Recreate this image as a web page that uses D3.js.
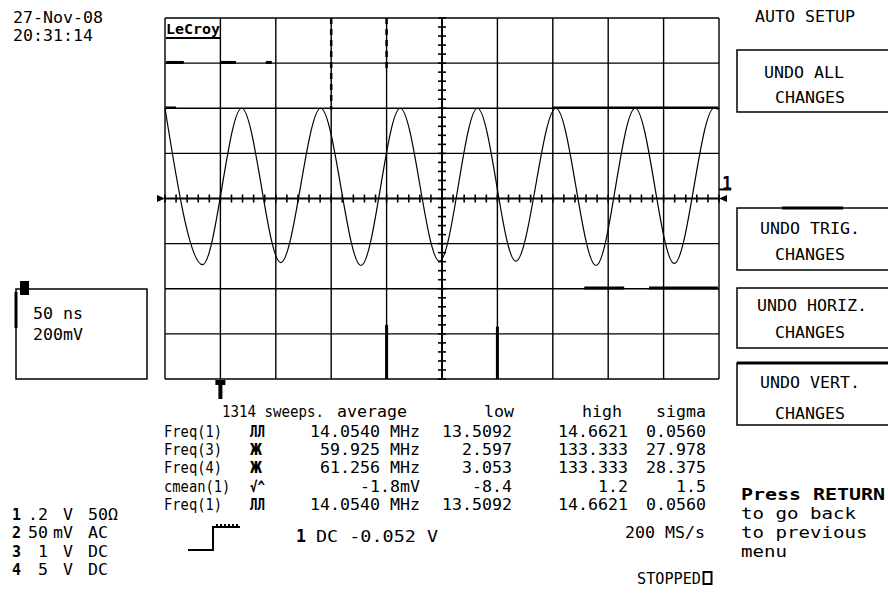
<!DOCTYPE html>
<html><head><meta charset="utf-8">
<script src="https://cdn.jsdelivr.net/npm/d3@7"></script>
<style>
body{margin:0;background:#fff}
svg{display:block}
text{font-family:"DejaVu Sans Mono",monospace;fill:#000}
</style>
</head><body><svg id="c" width="888" height="601"></svg>
<script>
// ---------------- data ----------------
const timeDomain = [-250, 250];          // ns, 50 ns/div, 10 divs
const voltDomain = [-0.8, 0.8];          // V, 200 mV/div, 8 divs
const gridTimes = d3.range(-250, 251, 50);
const gridVolts = [-0.8, -0.6, -0.4, -0.2, 0, 0.2, 0.4, 0.6, 0.8];
// channel 1 waveform extremes (time ns, volts)
const waveT = [-250, -216.1, -180.8, -145.5, -109.5, -73.1, -37.7, -2.3, 32, 66.6, 102.8, 139, 174.3, 209.6, 245.5, 250];
const waveV = [0.40, -0.293, 0.40, -0.284, 0.40, -0.297, 0.40, -0.278, 0.40, -0.278, 0.40, -0.297, 0.40, -0.288, 0.40, 0.395];
// fragments of other traces lying on grid lines [t0, v0, t1, v1]
const traceFrags = [
  [-249, 0.603, -233, 0.603], [-199.5, 0.603, -186, 0.603], [-159, 0.603, -153.6, 0.603],
  [-50, -0.56, -50, -0.8], [50, -0.568, 50, -0.8],
  [128.4, -0.397, 164.4, -0.397], [186.9, -0.397, 249, -0.397]
];
const thinFrags = [[99.5, 0.403, 249, 0.403], [-250, 0.403, -240, 0.403]];
const dashedFrags = [[-100, 0.8, -100, 0.395], [-50, 0.8, -50, 0.572]];

const dateLines = ["27-Nov-08", "20:31:14"];
const menuTitle = "AUTO SETUP";
const menuButtons = [["UNDO ALL", "CHANGES"], ["UNDO TRIG.", "CHANGES"], ["UNDO HORIZ.", "CHANGES"], ["UNDO VERT.", "CHANGES"]];
const returnLines = ["Press RETURN", "to go back", "to previous", "menu"];
const timebase = "50 ns", voltScale = "200mV";
const headerCols = ["1314 sweeps.", "average", "low", "high", "sigma"];
const measNames = ["Freq(1)", "Freq(3)", "Freq(4)", "cmean(1)", "Freq(1)"];
const measIcons = ["ЛЛ", "Ж", "Ж", "√^", "ЛЛ"];
const measAvg = ["14.0540 MHz", "59.925 MHz", "61.256 MHz", "-1.8mV", "14.0540 MHz"];
const measLow = ["13.5092", "2.597", "3.053", "-8.4", "13.5092"];
const measHigh = ["14.6621", "133.333", "133.333", "1.2", "14.6621"];
const measSigma = ["0.0560", "27.978", "28.375", "1.5", "0.0560"];
const chanNums = ["1", "2", "3", "4"];
const chanScale = [".2", "50", "1", "5"];
const chanUnit = ["V", "mV", "V", "V"];
const chanCoupling = ["50Ω", "AC", "DC", "DC"];
const sampleRate = "200 MS/s";
const trigText = "DC -0.052 V";
const status = "STOPPED";

// ---------------- layout ----------------
const svg = d3.select("#c");
const x = d3.scaleLinear().domain(timeDomain).range([165, 719]);
const y = d3.scaleLinear().domain(voltDomain).range([379, 18]);

function T(str, px, yc, o = {}) {
  const size = o.size || 15;
  const t = svg.append("text").attr("x", px).attr("y", yc + size * 0.37)
    .attr("font-size", size).text(str);
  if (o.anchor) t.attr("text-anchor", o.anchor);
  if (o.weight) t.attr("font-weight", o.weight);
  if (o.family) t.attr("font-family", o.family);
  if (o.fill) t.attr("fill", o.fill);
  const w = o.w !== undefined ? o.w : str.length * (o.adv || 10);
  if (w) t.attr("textLength", w).attr("lengthAdjust", "spacingAndGlyphs");
  return t;
}

// grid
const g = svg.append("g").attr("stroke", "#000").attr("fill", "none");
g.selectAll(".vx").data(gridTimes).join("line")
  .attr("x1", d => x(d)).attr("x2", d => x(d)).attr("y1", y(0.8)).attr("y2", y(-0.8))
  .attr("stroke-width", 1.4);
g.selectAll(".hy").data(gridVolts).join("line")
  .attr("x1", x(-250)).attr("x2", x(250)).attr("y1", d => y(d)).attr("y2", d => y(d))
  .attr("stroke-width", d => d === 0 ? 2 : 1.4);

// center axis ticks
const tTicks = d3.range(-250, 251, 10);
g.selectAll(".tt").data(tTicks).join("line")
  .attr("x1", d => x(d)).attr("x2", d => x(d))
  .attr("y1", y(0) - 4).attr("y2", y(0) + 4).attr("stroke-width", 1.6);
const vTicks = d3.range(-20, 21).map(i => i * 0.04);
g.selectAll(".vt").data(vTicks).join("line")
  .attr("x1", x(0) - 4).attr("x2", x(0) + 4)
  .attr("y1", d => y(d)).attr("y2", d => y(d)).attr("stroke-width", 1.6);
g.append("line").attr("x1", x(0)).attr("x2", x(0)).attr("y1", y(0.8)).attr("y2", y(-0.8)).attr("stroke-width", 2);

// other trace fragments
g.selectAll(".fr").data(traceFrags).join("line")
  .attr("x1", d => x(d[0])).attr("y1", d => y(d[1])).attr("x2", d => x(d[2])).attr("y2", d => y(d[3]))
  .attr("stroke-width", 3);
g.selectAll(".tf").data(thinFrags).join("line")
  .attr("x1", d => x(d[0])).attr("y1", d => y(d[1])).attr("x2", d => x(d[2])).attr("y2", d => y(d[3]))
  .attr("stroke-width", 2.2);
g.selectAll(".df").data(dashedFrags).join("line")
  .attr("x1", d => x(d[0])).attr("y1", d => y(d[1])).attr("x2", d => x(d[2])).attr("y2", d => y(d[3]))
  .attr("stroke-width", 2.5).attr("stroke-dasharray", "6,5");

// waveform
const wave = d3.zip(waveT, waveV);
svg.append("path").datum(wave)
  .attr("d", d3.line().x(d => x(d[0])).y(d => y(d[1])).curve(d3.curveMonotoneX))
  .attr("fill", "none").attr("stroke", "#000").attr("stroke-width", 1.2);

// axis end markers
svg.append("path").attr("d", `M${x(-250)},${y(0)} l-8,-3.5 v7 z`).attr("fill", "#000");
svg.append("path").attr("d", `M${x(250)},${y(0)} l8,-3.5 v7 z`).attr("fill", "#000");
// channel 1 marker at right
T("1", x(250) + 3, y(0.07), {size: 20, weight: "bold", w: 10});
svg.append("line").attr("x1", x(250)).attr("x2", x(250) + 12).attr("y1", y(0.04)).attr("y2", y(0.04)).attr("stroke", "#000").attr("stroke-width", 2);
// trigger marker below grid
svg.append("path").attr("d", `M${x(-200) - 5},${y(-0.8) + 1} h10 v5 h-3 v14 h-4 v-14 h-3 z`).attr("fill", "#000");

// LeCroy logo
T("LeCroy", 166, 29, {size: 14, weight: "bold", family: "DejaVu Sans", w: 54});
svg.append("rect").attr("x", 166).attr("y", 37).attr("width", 54).attr("height", 2).attr("fill", "#000");

// date/time
T(dateLines[0], 13, 17);
T(dateLines[1], 13, 35, {w: 80});

// menu
T(menuTitle, 755, 16);
const boxes = [[50, 112], [208, 270], [288, 348], [363, 425]];
const lineYs = [[72, 97], [228, 254], [305, 332], [382, 413]];
const lineX = [764, 760, 757, 760];
boxes.forEach((b, i) => {
  svg.append("path").attr("d", `M890,${b[0]} H737 V${b[1]} H890`).attr("fill", "none").attr("stroke", "#000").attr("stroke-width", 1.5);
  T(menuButtons[i][0], lineX[i], lineYs[i][0]);
  T(menuButtons[i][1], 775, lineYs[i][1]);
});
svg.append("rect").attr("x", 782).attr("y", 206.5).attr("width", 61).attr("height", 3).attr("fill", "#000");
svg.append("rect").attr("x", 737).attr("y", 361.5).attr("width", 151).attr("height", 3).attr("fill", "#000");

// return text
const retY = [494, 513, 532, 551];
returnLines.forEach((s, i) => T(s, 741, retY[i], {adv: i === 0 ? 12 : 11.5, weight: i === 0 ? "bold" : null}));

// left box
svg.append("rect").attr("x", 16).attr("y", 289).attr("width", 131).attr("height", 90).attr("fill", "none").attr("stroke", "#000").attr("stroke-width", 1.5);
svg.append("rect").attr("x", 14.5).attr("y", 292).attr("width", 3).attr("height", 36).attr("fill", "#000");
svg.append("rect").attr("x", 20).attr("y", 281).attr("width", 9).attr("height", 14).attr("fill", "#000");
T("1", 21.5, 287.5, {size: 11, weight: "bold", fill: "#fff", w: 6});
T(timebase, 33, 313);
T(voltScale, 33, 334);

// measurement table
const rowY = [411, 431, 449, 467.5, 486, 504.5];
T(headerCols[0], 222, rowY[0], {w: 102});
T(headerCols[1], 407, rowY[0], {anchor: "end"});
T(headerCols[2], 514, rowY[0], {anchor: "end"});
T(headerCols[3], 622, rowY[0], {anchor: "end"});
T(headerCols[4], 706, rowY[0], {anchor: "end"});
measNames.forEach((n, i) => {
  const yy = rowY[i + 1];
  T(n, 164, yy, {adv: 8.3});
  T(measIcons[i], 250, yy, {w: measIcons[i].length === 1 ? 12 : 15, weight: "bold"});
  T(measAvg[i], 420, yy, {anchor: "end"});
  T(measLow[i], 512, yy, {anchor: "end"});
  T(measHigh[i], 628, yy, {anchor: "end"});
  T(measSigma[i], 706, yy, {anchor: "end"});
});

// channel settings
const chY = [514, 532, 551, 569];
chanNums.forEach((c, i) => {
  T(c, 12, chY[i], {size: 15, weight: "bold", w: 9});
  T(chanScale[i], 48, chY[i], {anchor: "end"});
  T(chanUnit[i], 73, chY[i], {anchor: "end"});
  T(chanCoupling[i], 88, chY[i]);
});

// trigger icon + text
svg.append("path").attr("d", "M188,550 H213 V527 H240").attr("fill", "none").attr("stroke", "#000").attr("stroke-width", 2);
svg.append("path").attr("d", "M216,525 H240").attr("fill", "none").attr("stroke", "#000").attr("stroke-width", 2).attr("stroke-dasharray", "2,2");
T("1", 296, 536, {size: 17, weight: "bold", w: 10});
T(trigText, 316, 536, {w: 122});

T(sampleRate, 705, 532, {anchor: "end"});
T(status, 637, 578, {w: 64});
svg.append("rect").attr("x", 703.5).attr("y", 572).attr("width", 8).attr("height", 12).attr("fill", "none").attr("stroke", "#000").attr("stroke-width", 2);
</script></body></html>
